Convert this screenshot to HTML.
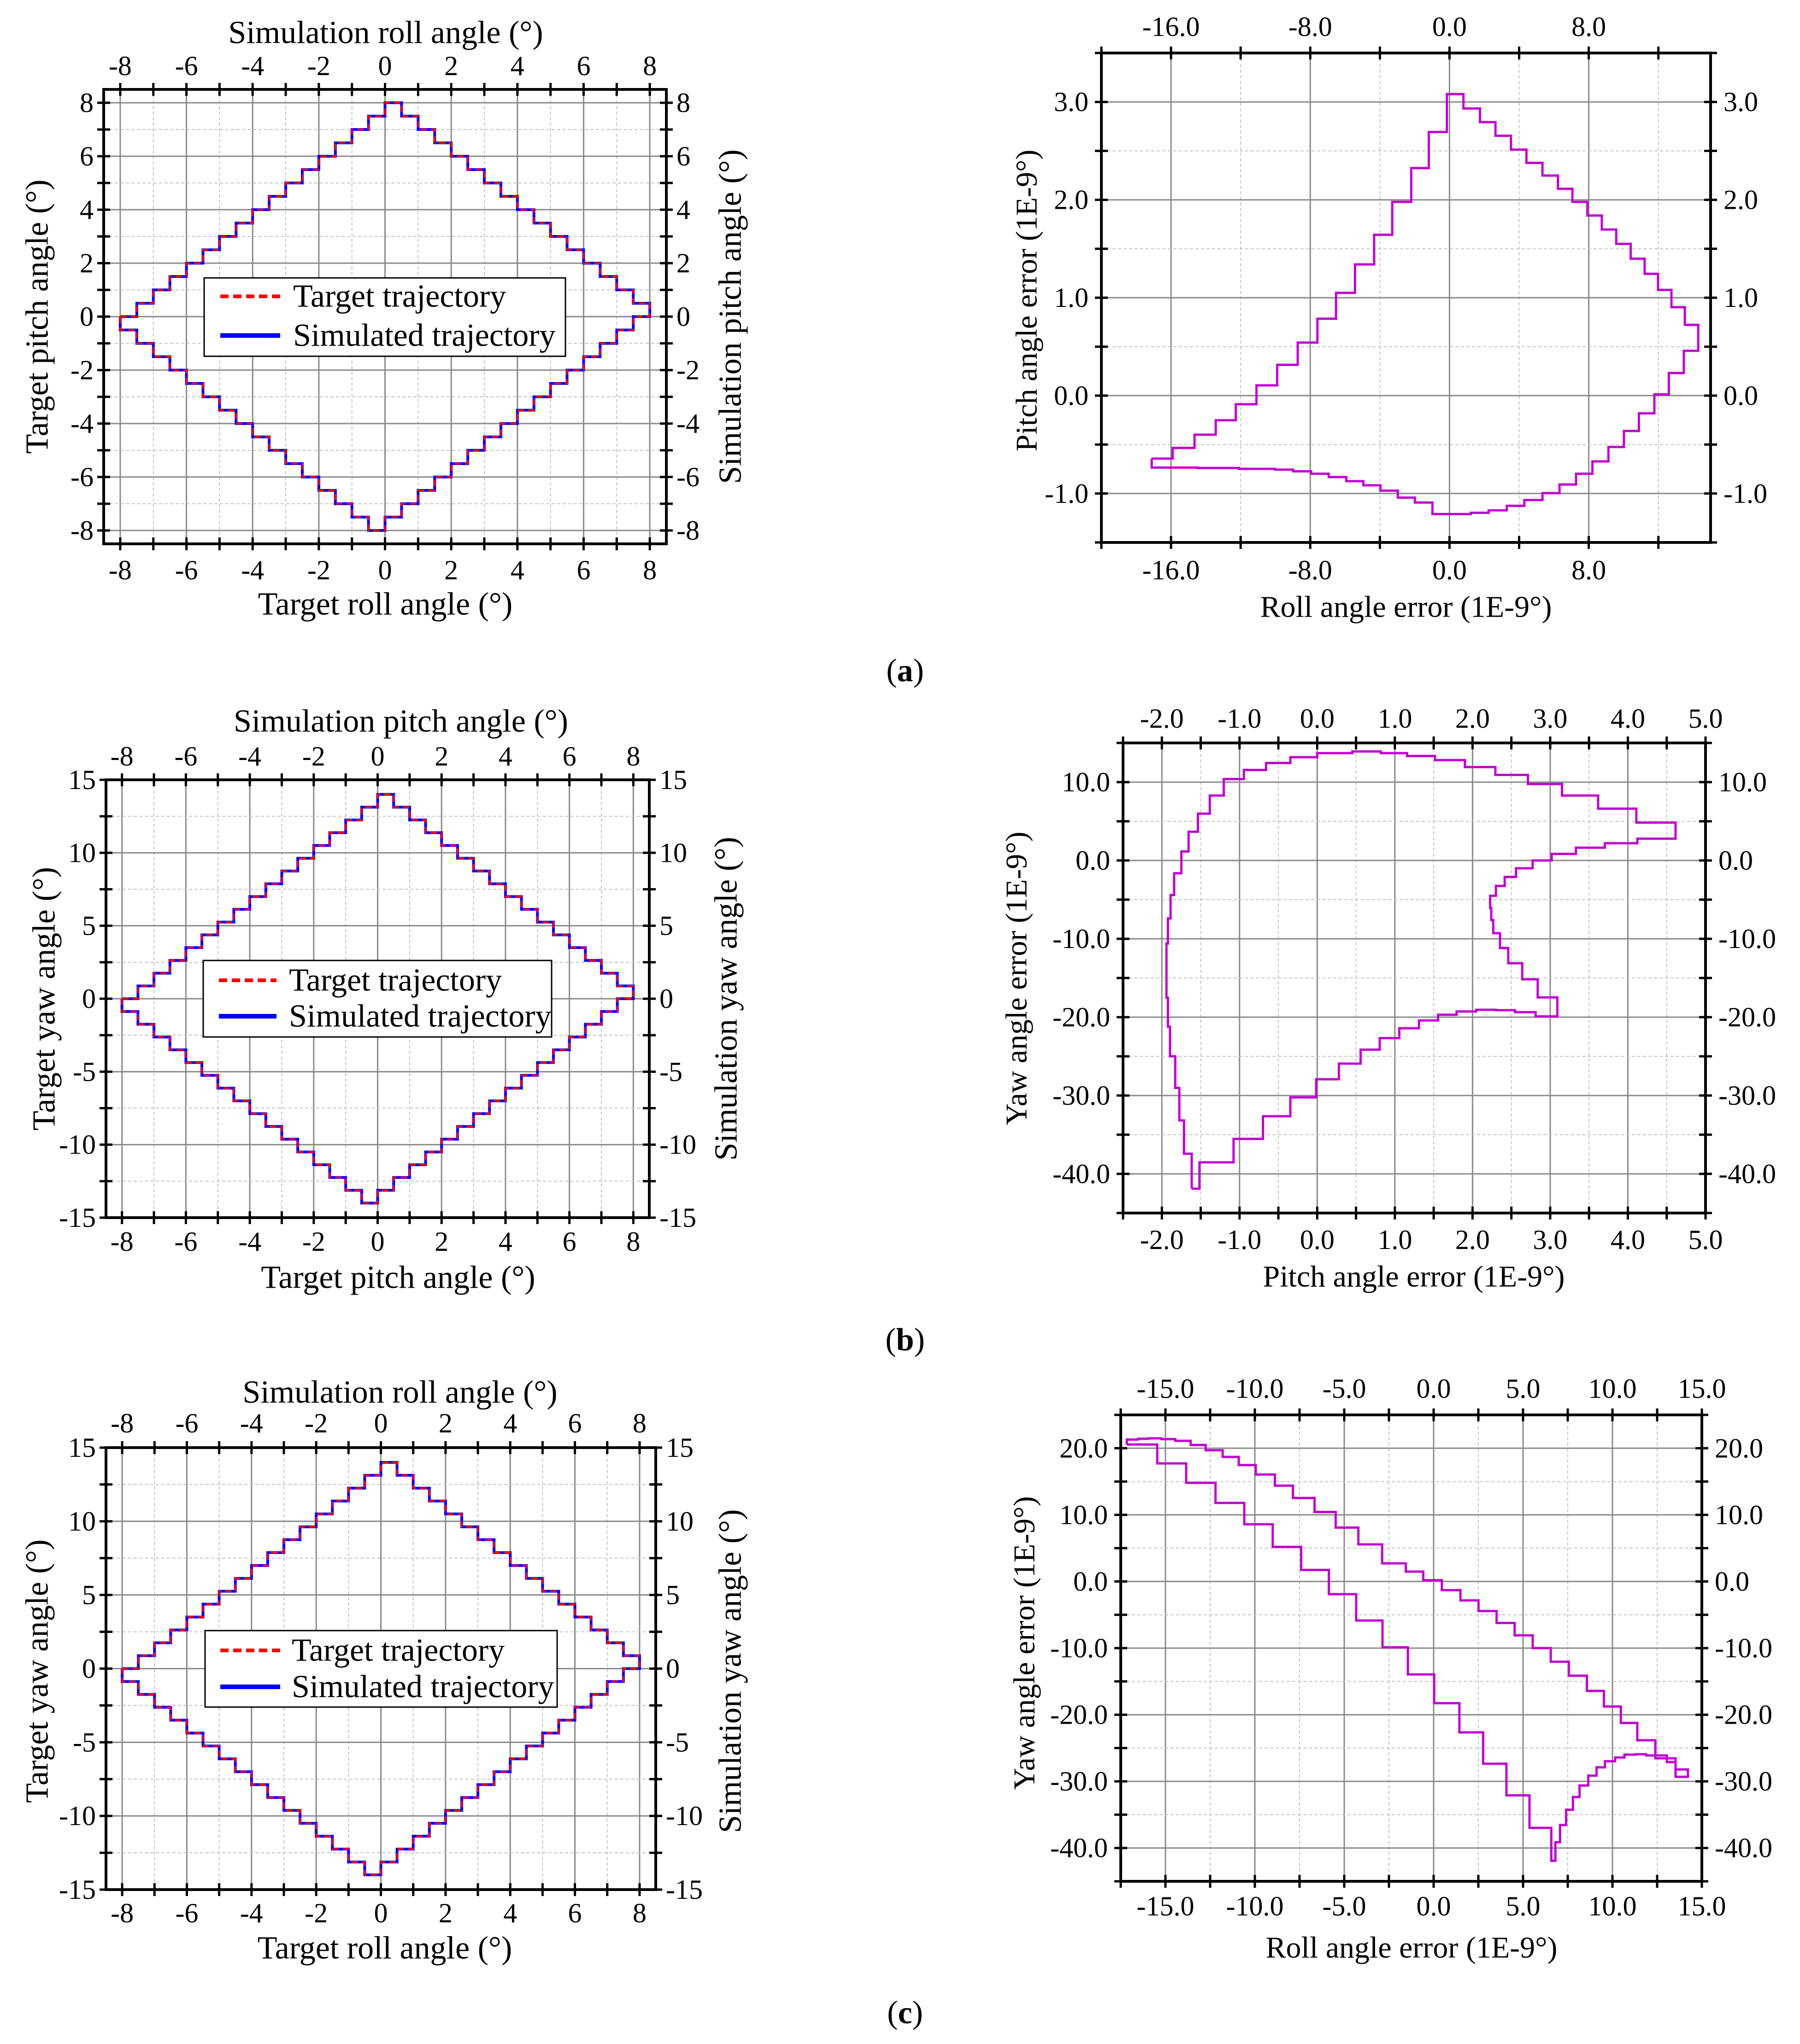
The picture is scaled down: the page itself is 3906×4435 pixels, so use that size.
<!DOCTYPE html>
<html><head><meta charset="utf-8"><title>Trajectory and error charts</title>
<style>
html,body{margin:0;padding:0;background:#fff;}
svg{display:block;}
text{font-family:"Liberation Serif","Times New Roman",serif;fill:#000;}
</style></head>
<body>
<svg id="fig" xmlns="http://www.w3.org/2000/svg" width="3906" height="4435" viewBox="0 0 3906 4435">
<rect x="0" y="0" width="3906" height="4435" fill="#fff"/>
</svg>
<script>
// ---- Target / simulated trajectory step samples ----
const targetX = [-8,-7.5,-7,-6.5,-6,-5.5,-5,-4.5,-4,-3.5,-3,-2.5,-2,-1.5,-1,-0.5,0,0.5,1,1.5,2,2.5,3,3.5,4,4.5,5,5.5,6,6.5,7,7.5,8,7.5,7,6.5,6,5.5,5,4.5,4,3.5,3,2.5,2,1.5,1,0.5,0,-0.5,-1,-1.5,-2,-2.5,-3,-3.5,-4,-4.5,-5,-5.5,-6,-6.5,-7,-7.5];
const targetPitch = [0,0.5,1,1.5,2,2.5,3,3.5,4,4.5,5,5.5,6,6.5,7,7.5,8,7.5,7,6.5,6,5.5,5,4.5,4,3.5,3,2.5,2,1.5,1,0.5,0,-0.5,-1,-1.5,-2,-2.5,-3,-3.5,-4,-4.5,-5,-5.5,-6,-6.5,-7,-7.5,-8,-7.5,-7,-6.5,-6,-5.5,-5,-4.5,-4,-3.5,-3,-2.5,-2,-1.5,-1,-0.5];
const targetYaw = [0,0.875,1.75,2.625,3.5,4.375,5.25,6.125,7,7.875,8.75,9.625,10.5,11.375,12.25,13.125,14,13.125,12.25,11.375,10.5,9.625,8.75,7.875,7,6.125,5.25,4.375,3.5,2.625,1.75,0.875,0,-0.875,-1.75,-2.625,-3.5,-4.375,-5.25,-6.125,-7,-7.875,-8.75,-9.625,-10.5,-11.375,-12.25,-13.125,-14,-13.125,-12.25,-11.375,-10.5,-9.625,-8.75,-7.875,-7,-6.125,-5.25,-4.375,-3.5,-2.625,-1.75,-0.875];
const simX = targetX.slice();
const simPitch = targetPitch.slice();
const simYaw = targetYaw.slice();

// ---- Error curves (step samples, 1E-9 deg) ----
const errA_roll = [-17.11,-15.90,-14.65,-13.43,-12.28,-11.09,-9.90,-8.72,-7.59,-6.52,-5.43,-4.33,-3.29,-2.20,-1.19,-0.15,0.80,1.75,2.64,3.53,4.42,5.34,6.23,7.06,7.92,8.75,9.58,10.41,11.21,11.98,12.75,13.52,14.29,13.46,12.60,11.77,10.88,10.02,9.13,8.21,7.27,6.32,5.34,4.30,3.29,2.25,1.22,-0.98,-1.99,-2.97,-3.97,-4.95,-5.93,-6.94,-7.95,-8.99,-10.02,-12.10,-14.47];
const errA_pitch = [-0.643,-0.534,-0.399,-0.252,-0.088,0.105,0.315,0.542,0.786,1.050,1.340,1.643,1.979,2.324,2.693,3.080,2.933,2.794,2.655,2.513,2.378,2.248,2.113,1.979,1.840,1.697,1.550,1.399,1.244,1.080,0.903,0.723,0.458,0.231,0.013,-0.181,-0.361,-0.525,-0.672,-0.798,-0.908,-0.996,-1.067,-1.126,-1.172,-1.197,-1.210,-1.092,-1.042,-0.971,-0.916,-0.874,-0.832,-0.798,-0.773,-0.756,-0.748,-0.739,-0.735];
const errB_pitch = [-1.616,-1.516,-1.077,-0.698,-0.346,-0.013,0.279,0.559,0.805,1.057,1.310,1.556,1.795,2.048,2.301,2.547,2.812,3.092,2.839,2.640,2.460,2.354,2.267,2.241,2.227,2.301,2.414,2.560,2.773,3.019,3.331,3.703,4.122,4.614,4.109,3.617,3.152,2.713,2.294,1.902,1.516,1.157,0.818,0.452,0.000,-0.346,-0.658,-0.944,-1.203,-1.383,-1.536,-1.656,-1.749,-1.842,-1.888,-1.922,-1.941,-1.922,-1.895,-1.828,-1.775,-1.715];
const errB_yaw = [-41.89,-38.53,-35.54,-32.65,-30.24,-27.93,-25.93,-24.15,-22.68,-21.42,-20.42,-19.69,-19.27,-19.06,-19.11,-19.37,-19.90,-17.48,-15.17,-13.12,-11.18,-9.29,-7.61,-6.09,-4.51,-3.25,-2.10,-1.00,0.00,0.84,1.63,2.20,2.78,4.83,6.61,8.29,9.76,10.92,11.92,12.81,13.33,13.70,13.91,13.70,13.18,12.44,11.55,10.39,8.29,5.98,3.67,1.15,-1.63,-4.41,-7.40,-10.60,-17.53,-21.21,-24.99,-29.03,-33.18,-37.43];
const errC_roll = [-17.16,-15.46,-13.84,-12.20,-10.59,-9.00,-7.41,-5.86,-4.33,-2.86,-1.44,0.03,1.44,2.77,4.07,5.36,6.58,6.81,7.07,7.41,7.79,8.16,8.65,9.11,9.58,10.15,10.67,11.31,11.88,13.04,13.53,14.22,13.53,12.40,11.39,10.47,9.52,8.57,7.56,6.55,5.54,4.53,3.52,2.51,1.50,0.46,-0.58,-1.56,-2.88,-4.21,-5.48,-6.66,-7.87,-8.88,-9.95,-10.90,-11.80,-12.75,-13.59,-14.45,-15.23,-15.95,-16.53,-17.16];
const errC_yaw = [20.56,17.72,14.81,11.79,8.58,5.19,1.73,-1.91,-5.86,-9.88,-13.95,-18.27,-22.65,-27.35,-32.10,-36.98,-41.91,-39.14,-36.54,-34.26,-32.35,-30.62,-29.14,-27.90,-26.98,-26.42,-25.99,-25.93,-26.11,-27.10,-29.32,-28.21,-26.54,-23.83,-21.23,-18.77,-16.42,-14.14,-12.04,-10.00,-8.09,-6.23,-4.44,-2.84,-1.30,0.19,1.48,2.72,5.56,8.09,10.43,12.53,14.38,16.05,17.47,18.70,19.69,20.49,21.11,21.36,21.48,21.42,21.30,21.05];

// ---- Tick label arrays ----
const ticksTarget8 = [-8,-6,-4,-2,0,2,4,6,8];
const ticksYaw15 = [-15,-10,-5,0,5,10,15];
const ticksErrA_x = [-16,-8,0,8];
const ticksErrA_y = [-1,0,1,2,3];
const ticksErrB_x = [-2,-1,0,1,2,3,4,5];
const ticksErrB_y = [-40,-30,-20,-10,0,10];
const ticksErrC_x = [-15,-10,-5,0,5,10,15];
const ticksErrC_y = [-40,-30,-20,-10,0,10,20];

const NS = "http://www.w3.org/2000/svg";
const fig = document.getElementById('fig');
function mk(tag, attrs, parent){
  const e = document.createElementNS(NS, tag);
  for (const k in attrs) e.setAttribute(k, attrs[k]);
  (parent||fig).appendChild(e);
  return e;
}
function txt(s, x, y, size, anchor, parent, rot){
  const t = mk('text', {x:x, y:y, 'font-size':size, 'text-anchor':anchor||'middle', 'dominant-baseline':'central'}, parent);
  if (rot) t.setAttribute('transform', 'rotate(-90 '+x+' '+y+')');
  t.textContent = s;
  return t;
}
function stepPath(xs, ys, sx, sy){
  let d = 'M' + sx(xs[0]) + ' ' + sy(ys[0]);
  const n = xs.length;
  for (let i = 1; i <= n; i++){
    const j = i % n;
    d += ' H' + sx(xs[j]) + ' V' + sy(ys[j]);
  }
  return d;
}

function panel(c){
  const g = mk('g', {});
  
  
  const [L,T,R,B] = c.box;
  const sx = v => L + (v - c.xd[0]) / (c.xd[1] - c.xd[0]) * (R - L);
  const sy = v => B - (v - c.yd[0]) / (c.yd[1] - c.yd[0]) * (B - T);
  const eps = 1e-6;
  const grid = mk('g', {}, g);
  
  
  for (let v = Math.ceil(c.xd[0]/c.xMinor)*c.xMinor; v <= c.xd[1]+eps; v += c.xMinor){
    const major = c.xLabels.some(t => Math.abs(t - v) < eps);
    mk('line', {x1:sx(v), x2:sx(v), y1:T, y2:B, stroke: major?'#8a8a8a':'#c4c4c4', 'stroke-width': major?3:2, 'stroke-dasharray': major?'none':'7 5'}, grid);
  }
  for (let v = Math.ceil(c.yd[0]/c.yMinor)*c.yMinor; v <= c.yd[1]+eps; v += c.yMinor){
    const major = c.yLabels.some(t => Math.abs(t - v) < eps);
    mk('line', {y1:sy(v), y2:sy(v), x1:L, x2:R, stroke: major?'#8a8a8a':'#c4c4c4', 'stroke-width': major?3:2, 'stroke-dasharray': major?'none':'7 5'}, grid);
  }
  c.series(g, sx, sy);
  const frame = mk('rect', {x:L, y:T, width:R-L, height:B-T, fill:'none', stroke:'#000', 'stroke-width':6}, g);
  
  
  const tk = 14;
  for (let v = Math.ceil(c.xd[0]/c.xMinor)*c.xMinor; v <= c.xd[1]+eps; v += c.xMinor){
    const x = sx(v);
    mk('line', {x1:x, x2:x, y1:T-tk, y2:T+tk, stroke:'#000', 'stroke-width':5}, g);
    mk('line', {x1:x, x2:x, y1:B-tk, y2:B+tk, stroke:'#000', 'stroke-width':5}, g);
  }
  for (let v = Math.ceil(c.yd[0]/c.yMinor)*c.yMinor; v <= c.yd[1]+eps; v += c.yMinor){
    const y = sy(v);
    mk('line', {x1:L-tk, x2:L+tk, y1:y, y2:y, stroke:'#000', 'stroke-width':5}, g);
    mk('line', {x1:R-tk, x2:R+tk, y1:y, y2:y, stroke:'#000', 'stroke-width':5}, g);
  }
  c.xLabels.forEach(v => {
    const s = c.fmt(v);
    const t1 = txt(s, sx(v), c.topTickY, c.tickSize, 'middle', g);
    
    
    const t2 = txt(s, sx(v), c.botTickY, c.tickSize, 'middle', g);
    
    
  });
  c.yLabels.forEach(v => {
    const s = c.fmt(v);
    const t1 = txt(s, L - c.yLabGap, sy(v), c.tickSize, 'end', g);
    
    
    const t2 = txt(s, R + c.yLabGap, sy(v), c.tickSize, 'start', g);
    
    
  });
  c.titles.forEach(t => {
    const e = txt(t.s, t.x, t.y, c.titleSize, 'middle', g, t.rot);
    
    
  });
  if (c.legend) legend(g, c.legend);
}

function legend(g, lg){
  const lgG = mk('g', {}, g);
  
  
  mk('rect', {x:lg.box[0], y:lg.box[1], width:lg.box[2]-lg.box[0], height:lg.box[3]-lg.box[1], fill:'#fff', stroke:'#000', 'stroke-width':3}, lgG);
  const e1 = mk('g', {}, lgG);
  
  
  mk('line', {x1:lg.sx0, x2:lg.sx1, y1:lg.y1, y2:lg.y1, stroke:'#ff0000', 'stroke-width':8, 'stroke-dasharray':'18 10'}, e1);
  txt('Target trajectory', lg.tx, lg.y1, 70, 'start', e1);
  const e2 = mk('g', {}, lgG);
  
  
  mk('line', {x1:lg.sx0, x2:lg.sx1, y1:lg.y2, y2:lg.y2, stroke:'#0000ff', 'stroke-width':10}, e2);
  txt('Simulated trajectory', lg.tx, lg.y2, 70, 'start', e2);
}

function trajSeries(ys, simYs){
  return function(g, sx, sy){
    const p1 = mk('path', {d:stepPath(simX, simYs, sx, sy), fill:'none', stroke:'#0000ff', 'stroke-width':6}, g);
    
    
    const p2 = mk('path', {d:stepPath(targetX, ys, sx, sy), fill:'none', stroke:'#ff0000', 'stroke-width':4, 'stroke-dasharray':'14 9'}, g);
    
    
  };
}
function errSeries(xs, ys){
  return function(g, sx, sy){
    const p = mk('path', {d:stepPath(xs, ys, sx, sy), fill:'none', stroke:'#c000d0', 'stroke-width':5}, g);
    
    
  };
}
const intFmt = v => String(v);
const f1 = v => v.toFixed(1);

panel({name:'panel-a-trajectory', box:[225,194,1446,1180], xd:[-8.5,8.5], yd:[-8.5,8.5], xMinor:1, yMinor:1,
  xLabels:ticksTarget8, yLabels:ticksTarget8, fmt:intFmt, tickSize:60, titleSize:70, yLabGap:22,
  topTickY:143, botTickY:1237,
  titles:[{s:'Simulation roll angle (°)', x:837, y:71, n:'top-axis-title'},
          {s:'Target roll angle (°)', x:836, y:1311, n:'x-axis-title'},
          {s:'Target pitch angle (°)', x:81, y:687, rot:true, n:'y-axis-title'},
          {s:'Simulation pitch angle (°)', x:1585, y:687, rot:true, n:'right-axis-title'}],
  legend:{box:[443,603,1227,773], y1:643, y2:728, sx0:478, sx1:608, tx:636},
  series:trajSeries(targetPitch, simPitch)});

panel({name:'panel-a-error', box:[2390,115,3712,1177], xd:[-20,15], yd:[-1.5,3.5], xMinor:4, yMinor:0.5,
  xLabels:ticksErrA_x, yLabels:ticksErrA_y, fmt:f1, tickSize:60, titleSize:66, yLabGap:28,
  topTickY:58, botTickY:1237,
  titles:[{s:'Roll angle error  (1E-9°)', x:3051, y:1317, n:'x-axis-title'},
          {s:'Pitch angle error (1E-9°)', x:2228, y:652, rot:true, n:'y-axis-title'}],
  series:errSeries(errA_roll, errA_pitch)});

panel({name:'panel-b-trajectory', box:[230,1692,1409,2642], xd:[-8.5,8.5], yd:[-15,15], xMinor:1, yMinor:2.5,
  xLabels:ticksTarget8, yLabels:ticksYaw15, fmt:intFmt, tickSize:60, titleSize:70, yLabGap:22,
  topTickY:1641, botTickY:2694,
  titles:[{s:'Simulation pitch angle (°)', x:870, y:1565, n:'top-axis-title'},
          {s:'Target pitch angle (°)', x:864, y:2772, n:'x-axis-title'},
          {s:'Target yaw angle (°)', x:96, y:2167, rot:true, n:'y-axis-title'},
          {s:'Simulation yaw angle (°)', x:1576, y:2167, rot:true, n:'right-axis-title'}],
  legend:{box:[441,2084,1197,2250], y1:2127, y2:2205, sx0:475, sx1:600, tx:627},
  series:trajSeries(targetYaw, simYaw)});

panel({name:'panel-b-error', box:[2437,1612,3701,2632], xd:[-2.5,5], yd:[-45,15], xMinor:0.5, yMinor:5,
  xLabels:ticksErrB_x, yLabels:ticksErrB_y, fmt:f1, tickSize:60, titleSize:66, yLabGap:28,
  topTickY:1559, botTickY:2690,
  titles:[{s:'Pitch angle error  (1E-9°)', x:3068, y:2770, n:'x-axis-title'},
          {s:'Yaw angle error  (1E-9°)', x:2206, y:2123, rot:true, n:'y-axis-title'}],
  series:errSeries(errB_pitch, errB_yaw)});

panel({name:'panel-c-trajectory', box:[230,3141,1423,4100], xd:[-8.5,8.5], yd:[-15,15], xMinor:1, yMinor:2.5,
  xLabels:ticksTarget8, yLabels:ticksYaw15, fmt:intFmt, tickSize:60, titleSize:70, yLabGap:22,
  topTickY:3088, botTickY:4151,
  titles:[{s:'Simulation roll angle (°)', x:868, y:3021, n:'top-axis-title'},
          {s:'Target roll angle (°)', x:835, y:4227, n:'x-axis-title'},
          {s:'Target yaw angle (°)', x:81, y:3626, rot:true, n:'y-axis-title'},
          {s:'Simulation yaw angle (°)', x:1585, y:3626, rot:true, n:'right-axis-title'}],
  legend:{box:[445,3538,1209,3704], y1:3581, y2:3660, sx0:478, sx1:608, tx:633},
  series:trajSeries(targetYaw, simYaw)});

panel({name:'panel-c-error', box:[2432,3070,3693,4082], xd:[-17.5,15], yd:[-45,25], xMinor:2.5, yMinor:5,
  xLabels:ticksErrC_x, yLabels:ticksErrC_y, fmt:f1, tickSize:60, titleSize:66, yLabGap:28,
  topTickY:3013, botTickY:4136,
  titles:[{s:'Roll angle error  (1E-9°)', x:3063, y:4226, n:'x-axis-title'},
          {s:'Yaw angle error  (1E-9°)', x:2223, y:3565, rot:true, n:'y-axis-title'}],
  series:errSeries(errC_roll, errC_yaw)});

[['a',1455],['b',2907],['c',4367]].forEach(([l,y]) => {
  const t = mk('text', {x:1964, y:y, 'font-size':70, 'text-anchor':'middle', 'dominant-baseline':'central'});
  
  
  t.appendChild(document.createTextNode('('));
  const b = mk('tspan', {'font-weight':'bold'}, t);
  b.textContent = l;
  t.appendChild(document.createTextNode(')'));
});
</script>
</body></html>
